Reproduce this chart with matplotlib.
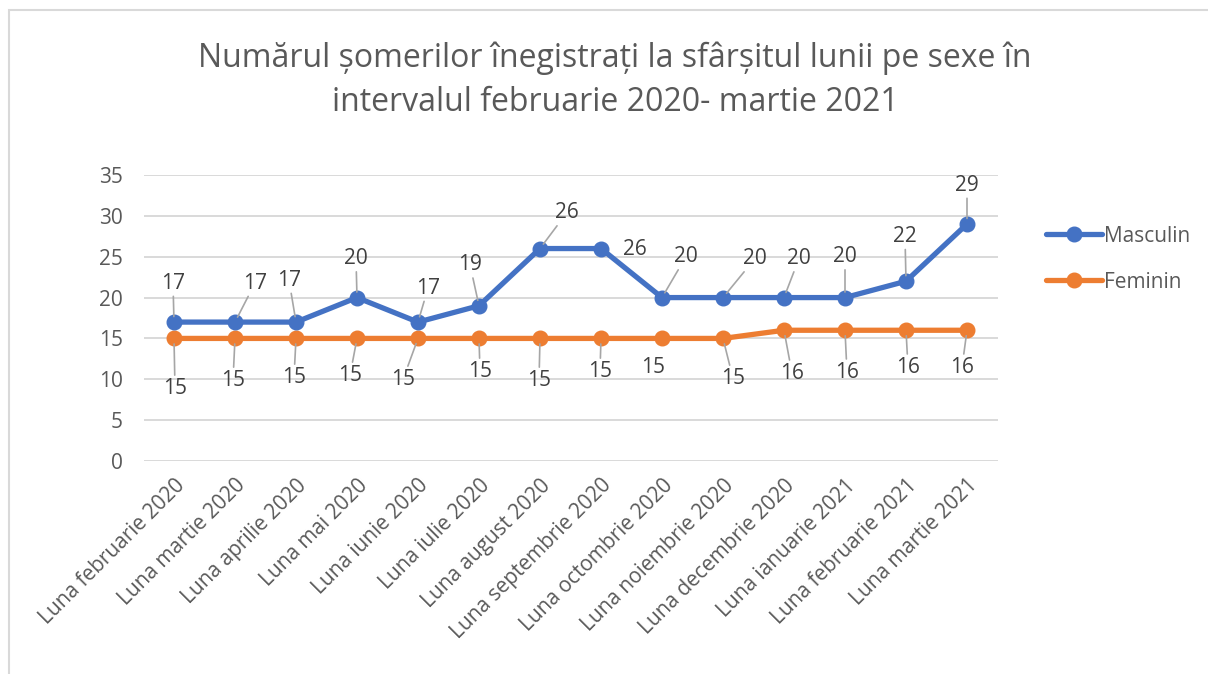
import matplotlib
matplotlib.use("Agg")
import matplotlib.pyplot as plt
from matplotlib.patches import Rectangle

plt.rcParams['font.family'] = ['Open Sans', 'DejaVu Sans']

categories = ["Luna februarie 2020", "Luna martie 2020", "Luna aprilie 2020", "Luna mai 2020",
              "Luna iunie 2020", "Luna iulie 2020", "Luna august 2020", "Luna septembrie 2020",
              "Luna octombrie 2020", "Luna noiembrie 2020", "Luna decembrie 2020",
              "Luna ianuarie 2021", "Luna februarie 2021", "Luna martie 2021"]
masculin = [17, 17, 17, 20, 17, 19, 26, 26, 20, 20, 20, 20, 22, 29]
feminin = [15, 15, 15, 15, 15, 15, 15, 15, 15, 15, 16, 16, 16, 16]
y_ticks = [0, 5, 10, 15, 20, 25, 30, 35]
title = "Numărul șomerilor înegistrați la sfârșitul lunii pe sexe în\nintervalul februarie 2020- martie 2021"

# label offsets in pixels (dx, dy up), and whether to draw leader line
m_off = [(-1, 39), (20, 39), (-7, 42), (-1, 39), (10, 34), (-9, 41), (27, 36), (34, -1),
         (24, 41), (32, 39), (15, 39), (0, 41), (-1, 45), (0, 39)]
m_lead = [True, True, True, True, True, True, True, False, True, True, True, True, True, True]
f_off = [(1, -50), (-2, -42), (-2, -39), (-7, -37), (-15, -41), (1, -33), (-1, -42), (-1, -33),
         (-9, -29), (10, -40), (8, -43), (2, -42), (2, -37), (-5, -37)]
f_lead = [True, True, True, True, True, True, True, True, False, True, True, True, True, True]

BLUE = "#4472C4"
ORANGE = "#ED7D31"
TXT = "#595959"
GRID = "#D9D9D9"
LEAD = "#A6A6A6"
FS = 15

W, H = 1208, 674
fig = plt.figure(figsize=(W / 100, H / 100), dpi=100)
ax = fig.add_axes([143.5 / W, 1 - 461 / H, (997.5 - 143.5) / W, (461 - 175) / H])

x = list(range(len(categories)))
l1, = ax.plot(x, masculin, color=BLUE, lw=3.8, marker='o', ms=10.5, solid_capstyle='round',
              label="Masculin", zorder=4)
l2, = ax.plot(x, feminin, color=ORANGE, lw=3.8, marker='o', ms=10.5, solid_capstyle='round',
              label="Feminin", zorder=3)

ax.set_xlim(-0.5, len(categories) - 0.5)
ax.set_ylim(0, 35)
ax.set_yticks(y_ticks)
ax.set_xticks(x)
ax.set_xticklabels(categories, rotation=45, ha='right', va='top', rotation_mode='anchor')
ax.tick_params(axis='both', length=0, labelsize=FS, labelcolor=TXT)
ax.tick_params(axis='y', pad=15)
ax.tick_params(axis='x', pad=10)
for s in ax.spines.values():
    s.set_visible(False)
ax.grid(axis='y', color=GRID, lw=1.4)
ax.set_axisbelow(True)

pt = 72 / 100.0
def labels(vals, offs, leads):
    for i, v in enumerate(vals):
        dx, dy = offs[i]
        ap = dict(arrowstyle='-', color=LEAD, lw=1.2, shrinkA=0, shrinkB=4) if leads[i] else None
        ax.annotate(str(v), xy=(i, v), xytext=(dx * pt, dy * pt), textcoords='offset points',
                    ha='center', va='center', fontsize=FS, color='#404040',
                    arrowprops=ap, zorder=5)

labels(masculin, m_off, m_lead)
labels(feminin, f_off, f_lead)

fig.text(615 / W, 1 - 80 / H, title, ha='center', va='center', fontsize=23, color=TXT,
         linespacing=1.45)

fig.legend(handles=[l1, l2], loc='center left', bbox_to_anchor=(1027 / W, 1 - 259 / H),
           frameon=False, fontsize=FS, labelcolor=TXT, handlelength=2.7,
           handletextpad=0.1, labelspacing=1.2)

fig.patches.append(Rectangle((9 / W, -0.1), 1.2, 1 - 10 / H + 0.1, transform=fig.transFigure,
                             fill=False, edgecolor=GRID, lw=1.5))

fig.savefig("out.png", dpi=100, facecolor='white')
